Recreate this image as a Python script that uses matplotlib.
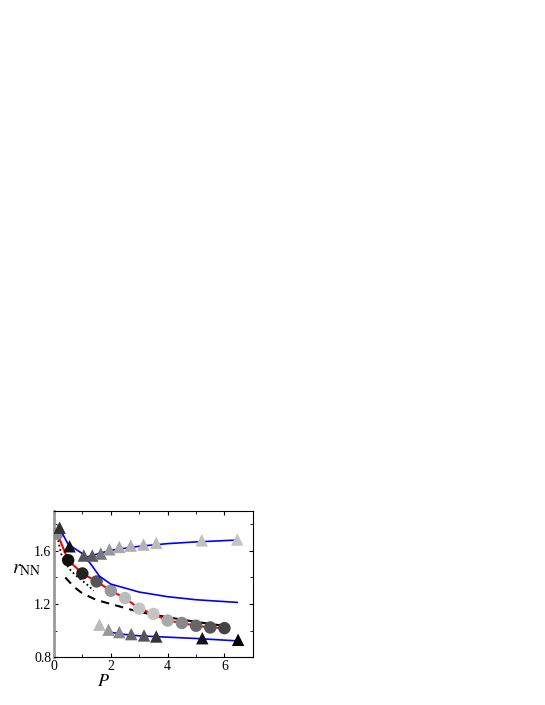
import numpy as np
import matplotlib
matplotlib.use("Agg")
import matplotlib.pyplot as plt
from matplotlib.ticker import MultipleLocator

plt.rcParams['font.family'] = ['Liberation Serif', 'DejaVu Serif']
plt.rcParams['mathtext.fontset'] = 'stix'

# red line + circles
circ_x = [0.12, 0.5, 1.0, 1.5, 2.0, 2.5, 3.0, 3.5, 4.0, 4.5, 5.0, 5.5, 6.0]
circ_y = [1.73, 1.53, 1.43, 1.37, 1.30, 1.245, 1.165, 1.125, 1.075, 1.057, 1.036, 1.023, 1.018]
circ_c = ['#8a8a8a', '#111111', '#222222', '#555555', '#999999', '#bbbbbb', '#c4c4c4',
          '#c4c4c4', '#aaaaaa', '#888888', '#666666', '#555555', '#444444']

# middle blue curve + first triangles
mid_x = [0.15, 0.5, 1.0, 1.3, 1.6, 2.0, 3.0, 4.0, 5.0, 6.45]
mid_y = [1.79, 1.65, 1.58, 1.50, 1.41, 1.35, 1.29, 1.255, 1.232, 1.212]
start_tri_x = [0.2, 0.55]
start_tri_y = [1.775, 1.635]

# upper branch
up_tri_x = [1.05, 1.35, 1.65, 1.95, 2.3, 2.7, 3.15, 3.6, 5.2, 6.45]
up_tri_y = [1.565, 1.565, 1.58, 1.612, 1.63, 1.64, 1.648, 1.66, 1.68, 1.686]
up_tri_c = ['#555555', '#5a5a5a', '#777777', '#999999', '#aaaaaa', '#b0b0b0',
            '#b4b4b4', '#bbbbbb', '#c0c0c0', '#c4c4c4']
up_line_x = [1.0, 1.5, 2.0, 3.0, 4.0, 5.0, 6.45]
up_line_y = [1.545, 1.575, 1.605, 1.635, 1.655, 1.668, 1.682]

# lower branch
lo_tri_x = [1.6, 1.92, 2.3, 2.72, 3.17, 3.6, 5.22, 6.48]
lo_tri_y = [1.044, 1.006, 0.988, 0.973, 0.963, 0.955, 0.942, 0.93]
lo_tri_c = ['#bbbbbb', '#999999', '#888888', '#666666', '#555555', '#333333',
            '#111111', '#000000']
lo_line_x = [1.9, 2.5, 3.0, 4.0, 5.0, 6.45]
lo_line_y = [0.99, 0.97, 0.96, 0.95, 0.94, 0.922]

# black dotted and dashed
dot_x = [0.15, 0.25, 0.4, 0.6, 0.8, 1.0, 1.2, 1.4]
dot_y = [1.68, 1.58, 1.51, 1.45, 1.41, 1.375, 1.34, 1.30]
dash_x = [0.4, 0.7, 1.0, 1.5, 2.0, 3.0, 4.0, 5.0, 6.0]
dash_y = [1.40, 1.33, 1.28, 1.23, 1.20, 1.14, 1.10, 1.065, 1.035]

fig = plt.figure(figsize=(5.45, 7.05), dpi=100)
ax = fig.add_axes([0.099, 0.068, 0.365, 0.207])

ax.plot(dot_x, dot_y, color='black', linestyle=(0, (1, 1.5)), lw=1.3, zorder=2)
ax.plot(dash_x, dash_y, color='black', linestyle=(0, (4, 3)), lw=1.5, zorder=2)
ax.plot(circ_x, circ_y, color='red', lw=1.5, zorder=3)
ax.scatter(circ_x, circ_y, s=80, c=circ_c, marker='o', zorder=4, linewidths=0)
ax.plot(mid_x, mid_y, color='blue', lw=1.2, zorder=5)
ax.plot(up_line_x, up_line_y, color='blue', lw=1.2, zorder=5)
ax.plot(lo_line_x, lo_line_y, color='blue', lw=1.2, zorder=5)
ax.scatter(start_tri_x, start_tri_y, s=80, c=['#333333', '#111111'], marker='^', zorder=6, linewidths=0)
ax.scatter(up_tri_x, up_tri_y, s=80, c=up_tri_c, marker='^', zorder=6, linewidths=0)
ax.scatter(lo_tri_x, lo_tri_y, s=80, c=lo_tri_c, marker='^', zorder=6, linewidths=0)

ax.set_xlim(0, 7)
ax.set_ylim(0.8, 1.9)
ax.xaxis.set_major_locator(MultipleLocator(2))
ax.xaxis.set_minor_locator(MultipleLocator(1))
ax.yaxis.set_major_locator(MultipleLocator(0.4))
ax.yaxis.set_minor_locator(MultipleLocator(0.2))
ax.tick_params(which='both', direction='in', top=True, right=True, labelsize=10, pad=2)
ax.tick_params(which='major', length=3)
ax.tick_params(which='minor', length=2)
ax.spines['left'].set_color('#999999')
ax.spines['left'].set_linewidth(2)
for s in ['top', 'right', 'bottom']:
    ax.spines[s].set_linewidth(0.8)

ax.text(-0.14, 0.6, r'$r_{\rm NN}$', transform=ax.transAxes, fontsize=14,
        ha='center', va='center')
ax.text(0.25, -0.17, r'$P$', transform=ax.transAxes, fontsize=13,
        ha='center', va='center')

fig.savefig('out.png', dpi=100)
